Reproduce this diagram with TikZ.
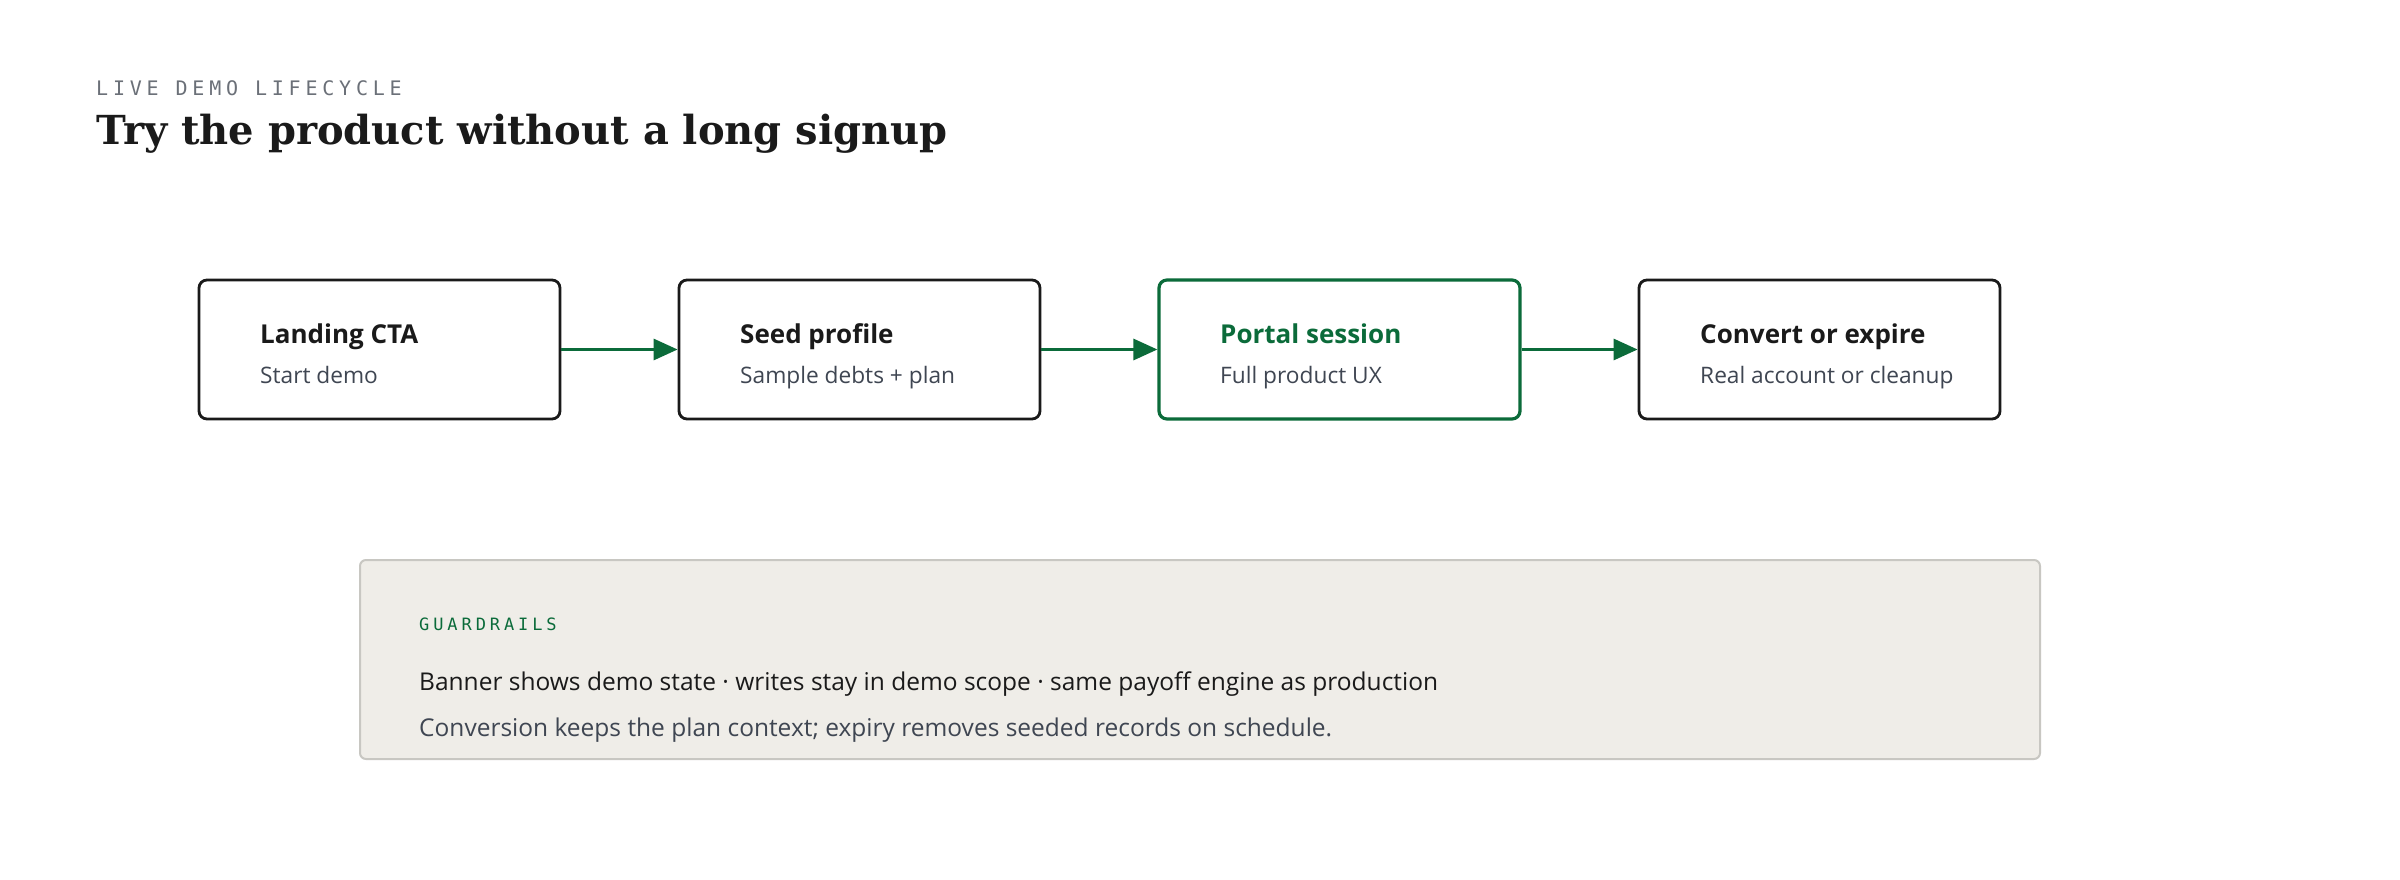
\documentclass[tikz,border=0pt]{standalone}
\usepackage{fontspec}
\setmainfont{Open Sans}
\newfontfamily\titlefont{DejaVu Serif}
\newfontfamily\eyebrowfont[LetterSpace=24]{DejaVu Sans Mono}
\newfontfamily\guardfont[LetterSpace=23]{DejaVu Sans Mono}
\usetikzlibrary{arrows.meta,calc}
\definecolor{ink}{HTML}{1A1A1A}
\definecolor{subink}{HTML}{3F4652}
\definecolor{eyebrow}{HTML}{6B7078}
\definecolor{brand}{HTML}{0B6B3A}
\definecolor{panelfill}{HTML}{EFEDE8}
\definecolor{panelline}{HTML}{C8C7C2}
\tikzset{
  x=1pt, y=-1pt,
  stagebox/.style={draw=ink, line width=2.8pt, rounded corners=8pt, fill=white,
    minimum width=361pt, minimum height=139pt, inner sep=0pt},
  activebox/.style={stagebox, draw=brand, line width=3.2pt},
  stagetitle/.style={anchor=base west, inner sep=0pt, font=\fontsize{26}{30}\selectfont\bfseries, text=ink},
  stagesub/.style={anchor=base west, inner sep=0pt, font=\fontsize{22.7}{26}\selectfont, text=subink},
  flow/.style={draw=brand, line width=3pt, -{Triangle[length=24pt,width=21pt]}},
  txt/.style={anchor=base west, inner sep=0pt},
}
\begin{document}
\begin{tikzpicture}
\useasboundingbox (0,0) rectangle (2400,880);
\fill[white] (0,0) rectangle (2400,880);

\node[txt, text=eyebrow, font=\eyebrowfont\fontsize{20}{24}\selectfont] (eyebrowtxt) at (96,96) {LIVE DEMO LIFECYCLE};
\node[txt, text=ink, font=\titlefont\fontsize{40}{48}\selectfont\bfseries] (title) at (96,145) {Try the product without a long signup};

\node[stagebox] (b1) at (379.5,349.5) {};
\node[stagebox] (b2) at (859.5,349.5) {};
\node[activebox] (b3) at (1339.5,349.5) {};
\node[stagebox] (b4) at (1819.5,349.5) {};

\node[stagetitle] (t1) at (260,343) {Landing CTA};
\node[stagesub] (s1) at (260,383) {Start demo};
\node[stagetitle] (t2) at (740,343) {Seed profile};
\node[stagesub] (s2) at (740,383) {Sample debts + plan};
\node[stagetitle, text=brand] (t3) at (1220,343) {Portal session};
\node[stagesub] (s3) at (1220,383) {Full product UX};
\node[stagetitle] (t4) at (1700,343) {Convert or expire};
\node[stagesub] (s4) at (1700,383) {Real account or cleanup};

\draw[flow] (b1.east) -- (b2.west);
\draw[flow] (b2.east) -- (b3.west);
\draw[flow] (b3.east) -- (b4.west);

\draw[fill=panelfill, draw=panelline, line width=2pt, rounded corners=6pt] (360,560) rectangle (2040,759);
\node[txt, text=brand, font=\guardfont\fontsize{17}{20}\selectfont] (guard) at (419,630) {GUARDRAILS};
\node[txt, text=ink, font=\fontsize{24.5}{29}\selectfont] (g1) at (419,690) {Banner shows demo state · writes stay in demo scope · same payoff engine as production};
\node[txt, text=subink, font=\fontsize{24.5}{29}\selectfont] (g2) at (419,736) {Conversion keeps the plan context; expiry removes seeded records on schedule.};
\end{tikzpicture}
\end{document}
